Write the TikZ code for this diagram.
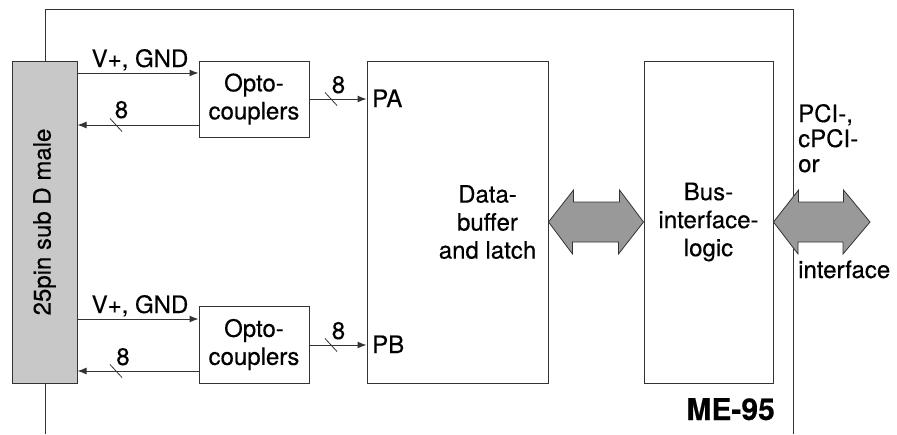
\documentclass[tikz,border=0pt]{standalone}
\usepackage{fontspec}
\setmainfont{TeX Gyre Heros}[FakeBold=0.35,BoldFont={TeX Gyre Heros Bold},BoldFeatures={FakeBold=0.4}]
\usetikzlibrary{arrows.meta,calc}
\definecolor{linegray}{HTML}{333333}
\definecolor{connfill}{HTML}{C8C8C8}
\definecolor{busfill}{HTML}{999999}
\begin{document}
\begin{tikzpicture}[x=1pt,y=-1pt,
  every node/.style={font=\fontsize{24}{28}\selectfont, inner sep=0pt},
  block/.style={draw=linegray, line width=1pt, fill=white, rectangle},
  wire/.style={draw=linegray, line width=1pt, -{Latex[length=9pt,width=7pt]}},
  tick/.style={draw=linegray, line width=0.8pt},
  busarrow/.style={draw=linegray, line width=0.8pt, fill=busfill},
  lbl/.style={anchor=base},
]
\useasboundingbox (0,0) rectangle (897,434);

% board outline, open at the bottom
\draw[linegray, line width=1pt] (45,434) -- (45,9) -- (793,9) -- (793,434);

% connector
\node[block, fill=connfill, minimum width=65pt, minimum height=322pt] (conn) at (44.5,222) {};
\node[rotate=90] (connlbl) at (conn.center) {25pin sub D male};

% blocks
\node[block, minimum width=110pt, minimum height=76pt, align=center] (opto1) at (254,99) {Opto-\\couplers};
\node[block, minimum width=110pt, minimum height=77pt, align=center] (opto2) at (254,344.5) {Opto-\\couplers};
\node[block, minimum width=181pt, minimum height=322pt] (buf) at (457.5,222) {};
\node[align=center] (buflbl) at ($(buf.center)+(30,0)$) {Data-\\buffer\\and latch};
\node[block, minimum width=129pt, minimum height=322pt, align=center] (bus) at (708.5,222) {Bus-\\interface-\\logic};

% signal rows
\coordinate (ra1) at (0,73);  \coordinate (ra2) at (0,125); \coordinate (ra3) at (0,99);
\coordinate (rb1) at (0,319); \coordinate (rb2) at (0,371); \coordinate (rb3) at (0,345);

% upper channel
\draw[wire] (conn.east |- ra1) -- (opto1.west |- ra1);
\draw[wire] (opto1.west |- ra2) -- (conn.east |- ra2);
\draw[wire] (opto1.east |- ra3) -- (buf.west |- ra3);
\node[lbl] (vgA) at (140,67) {V+, GND};
\node[lbl] (n8a) at (121.5,118) {8};
\node[lbl] (n8b) at (338.5,93) {8};
\node[anchor=base west] (pa) at (372,107) {PA};
\draw[tick] (116,125) ++(-6,-6.5) -- ++(12,13);
\draw[tick] (331,99) ++(-6,-6.5) -- ++(12,13);

% lower channel
\draw[wire] (conn.east |- rb1) -- (opto2.west |- rb1);
\draw[wire] (opto2.west |- rb2) -- (conn.east |- rb2);
\draw[wire] (opto2.east |- rb3) -- (buf.west |- rb3);
\node[lbl] (vgB) at (140,313) {V+, GND};
\node[lbl] (n8c) at (123,365) {8};
\node[lbl] (n8d) at (338.5,339) {8};
\node[anchor=base west] (pb) at (372,353) {PB};
\draw[tick] (116,371) ++(-6,-6.5) -- ++(12,13);
\draw[tick] (331,345) ++(-6,-6.5) -- ++(12,13);

% internal bus between buffer and bus interface
\draw[busarrow] (buf.east) -- ++(25,-32) -- ++(0,12) -- ++(46,0) -- ++(0,-12)
  -- (bus.west) -- ++(-25,32) -- ++(0,-12) -- ++(-46,0) -- ++(0,12) -- cycle;

% host bus
\coordinate (hostend) at (870,222);
\draw[busarrow] (bus.east) -- ++(25,-32) -- ++(0,12) -- ++(45,0) -- ++(0,-12)
  -- (hostend) -- ++(-27,32) -- ++(0,-12) -- ++(-45,0) -- ++(0,12) -- cycle;

\node[anchor=base west] (h1) at (798,122) {PCI-,};
\node[anchor=base west] (h2) at (798,147) {cPCI-};
\node[anchor=base west] (h3) at (798,172) {or};
\node[anchor=base west] (h4) at (798,278) {interface};

\node[anchor=base east, font=\bfseries\fontsize{30}{32}\selectfont] (title) at (775,420) {ME-95};
\end{tikzpicture}
\end{document}
